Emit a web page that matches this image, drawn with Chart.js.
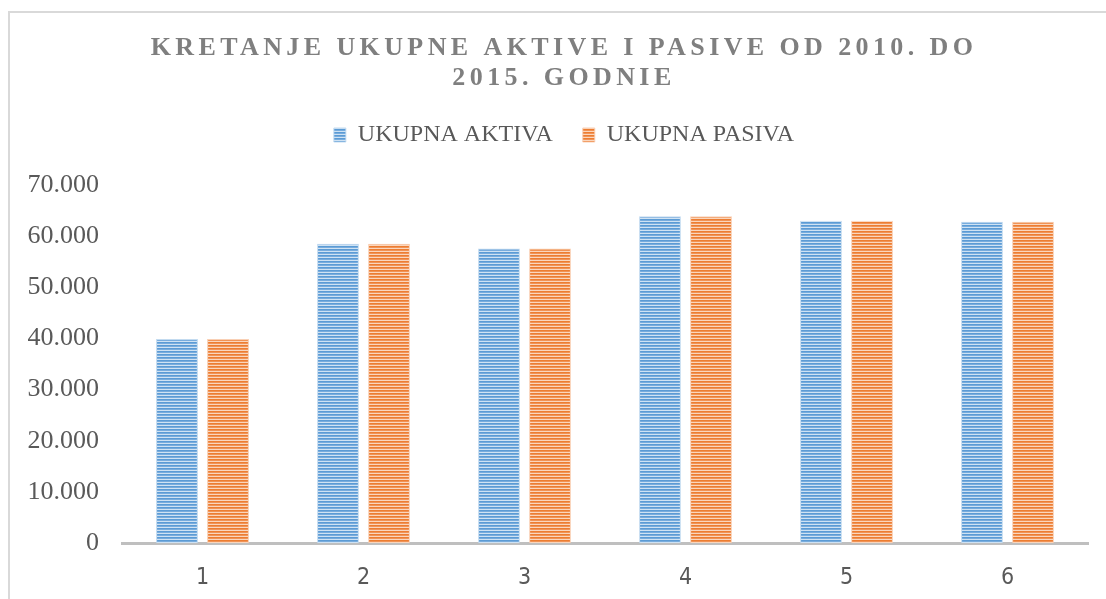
<!DOCTYPE html>
<html>
<head>
<meta charset="utf-8">
<script src="https://cdn.jsdelivr.net/npm/chart.js@4"></script>
<style>
  html, body { margin: 0; padding: 0; background: #ffffff; overflow: hidden; }
  canvas { display: block; }
</style>
</head>
<body>
<canvas id="c" width="1106" height="599"></canvas>
<script>
// ---- data ----
const categories = ['1', '2', '3', '4', '5', '6'];
const aktiva = [39900, 58500, 57600, 63900, 63000, 62800];
const pasiva = [39900, 58500, 57600, 63900, 63000, 62800];
const yTickLabels = ['0', '10.000', '20.000', '30.000', '40.000', '50.000', '60.000', '70.000'];
const seriesNames = ['UKUPNA AKTIVA', 'UKUPNA PASIVA'];
const titleLines = ['KRETANJE UKUPNE AKTIVE I PASIVE OD 2010. DO', '2015. GODNIE'];

const canvas = document.getElementById('c');
const ctx = canvas.getContext('2d');

function stripes(base, mid, light) {
  const p = document.createElement('canvas');
  p.width = 4; p.height = 3;
  const g = p.getContext('2d');
  g.fillStyle = base; g.fillRect(0, 0, 4, 1);
  g.fillStyle = mid; g.fillRect(0, 1, 4, 1);
  g.fillStyle = light; g.fillRect(0, 2, 4, 1);
  return ctx.createPattern(p, 'repeat');
}
const bluePattern = stripes('#5B9BD5', '#78ACDD', '#CFE2F3');
const orangePattern = stripes('#ED7D31', '#F09356', '#FAD6BD');

const framePlugin = {
  id: 'frame',
  beforeDraw(chart) {
    const c = chart.ctx;
    c.save();
    c.fillStyle = '#ffffff';
    c.fillRect(0, 0, chart.width, chart.height);
    c.strokeStyle = '#d9d9d9';
    c.lineWidth = 2;
    c.strokeRect(9, 12, chart.width + 20, chart.height + 20);
    c.restore();
  }
};

const serif = "'Liberation Serif', 'Times New Roman', serif";

const chart = new Chart(canvas, {
  type: 'bar',
  data: {
    labels: categories,
    datasets: [
      {
        label: seriesNames[0],
        data: aktiva,
        backgroundColor: bluePattern,
        borderColor: 'rgba(189,215,238,0.9)',
        borderWidth: 1,
        barPercentage: 0.82,
        categoryPercentage: 0.634
      },
      {
        label: seriesNames[1],
        data: pasiva,
        backgroundColor: orangePattern,
        borderColor: 'rgba(248,203,173,0.9)',
        borderWidth: 1,
        barPercentage: 0.82,
        categoryPercentage: 0.634
      }
    ]
  },
  options: {
    responsive: false,
    animation: false,
    layout: { padding: { top: 12, left: 40, right: 18, bottom: 12 } },
    plugins: {
      title: {
        display: true,
        text: titleLines,
        color: '#7F7F7F',
        font: { family: serif, size: 26, weight: 'bold', lineHeight: 1.154 },
        padding: { top: 21, bottom: 0 }
      },
      legend: {
        display: true,
        position: 'top',
        labels: {
          color: '#595959',
          font: { family: serif, size: 24 },
          boxWidth: 12,
          boxHeight: 14,
          padding: 30
        }
      },
      tooltip: { enabled: false }
    },
    scales: {
      x: {
        grid: { display: false, drawTicks: false },
        border: { display: true, color: '#bfbfbf', width: 3 },
        ticks: {
          color: '#595959',
          padding: 21,
          font: { family: "'Liberation Sans Narrow', 'DejaVu Sans Condensed', 'Liberation Sans', sans-serif", size: 23 }
        },
        afterFit: (scale) => { scale.height = 44; }
      },
      y: {
        min: 0,
        max: 70000,
        grid: { display: false, drawTicks: false },
        border: { display: false },
        ticks: {
          stepSize: 10000,
          color: '#595959',
          padding: 23,
          font: { family: serif, size: 26 },
          callback: (v, i) => yTickLabels[i]
        },
        afterFit: (scale) => { scale.width = 82; }
      }
    }
  },
  plugins: [framePlugin]
});

// letter-spaced title
const tb = chart.titleBlock;
const origTitleDraw = tb.draw;
tb.draw = function () {
  const c = this.ctx;
  c.save();
  try { c.letterSpacing = '4.4px'; } catch (e) {}
  origTitleDraw.apply(this, arguments);
  c.restore();
};
// extra gap below legend
const lg = chart.legend;
const origFit = lg.fit;
lg.fit = function () {
  origFit.apply(this, arguments);
  this.height += 28;
};
// don't clip y tick labels to the axis box
chart.scales.y._computeLabelArea = function () { return undefined; };
chart.update();
</script>
</body>
</html>
